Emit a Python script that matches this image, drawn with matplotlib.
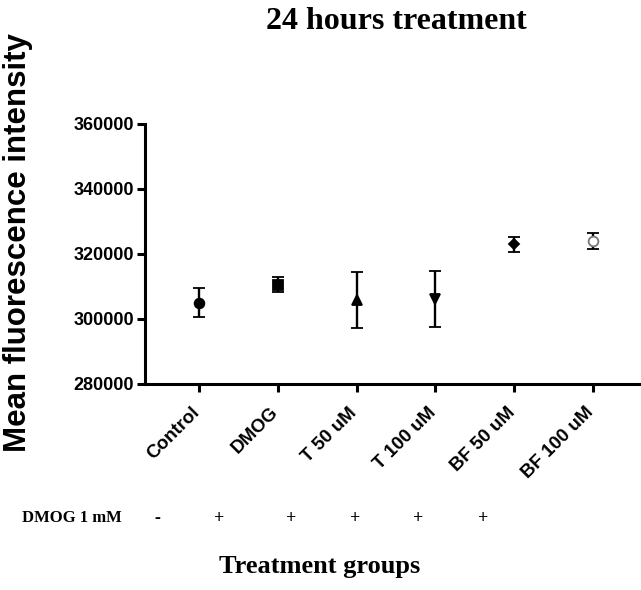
import numpy as np
import matplotlib
matplotlib.use('Agg')
import matplotlib.pyplot as plt
import matplotlib.transforms as mtransforms

# values
groups = ['Control', 'DMOG', 'T 50 uM', 'T 100 uM', 'BF 50 uM', 'BF 100 uM']
means = [305000, 310500, 305800, 306200, 323000, 324000]
errs = [4400, 2300, 8700, 8700, 2300, 2400]
dmog_signs = ['-', '+', '+', '+', '+', '+']
markers = ['o', 's', '^', 'v', 'D', 'o']

fig = plt.figure(figsize=(6.41, 5.90), dpi=100)
ax = fig.add_axes([0.2262, 0.3492, 0.7738, 0.4407])

x = np.arange(len(groups))
for i in range(len(groups)):
    if i == 5:
        fc, ec = 'white', '#777777'
    else:
        fc, ec = 'black', 'black'
    ms = 7 if markers[i] != 'D' else 5
    ax.errorbar(x[i], means[i], yerr=errs[i], fmt=markers[i], ms=ms,
                mfc=fc, mec=ec, mew=1.3, ecolor='black', elinewidth=1.7,
                capsize=4.5, capthick=1.7, zorder=3)

ax.set_ylim(280000, 360000)
ax.set_yticks([280000, 300000, 320000, 340000, 360000])
ax.set_xlim(-0.685, 5.61)
ax.set_xticks(x)
ax.set_xticklabels(groups, rotation=45, ha='right', rotation_mode='anchor',
                   fontfamily='Liberation Sans', fontweight='bold', fontsize=13.5)
for lab in ax.get_yticklabels():
    lab.set_fontfamily('Liberation Sans')
    lab.set_fontweight('bold')
    lab.set_fontsize(13)

for s in ['top', 'right']:
    ax.spines[s].set_visible(False)
for s in ['left', 'bottom']:
    ax.spines[s].set_linewidth(2.2)
ax.tick_params(width=2.2, length=6, direction='out', pad=2)
ax.tick_params(axis='x', pad=7)

# nudge the rotated labels so their end sits under the tick
shift = mtransforms.ScaledTranslation(-8 / 100, -2 / 100, fig.dpi_scale_trans)
for tk in ax.xaxis.get_major_ticks():
    tk.label1.set_transform(tk.label1.get_transform() + shift)

ax.set_ylabel('Mean fluorescence intensity', fontfamily='Liberation Sans',
              fontweight='bold', fontsize=22.5)
ax.yaxis.set_label_coords(-0.226, 0.542)

fig.text(0.618, 0.963, '24 hours treatment', ha='center', va='center',
         fontfamily='Liberation Serif', fontweight='bold', fontsize=23)

fig.text(0.034, 0.122, 'DMOG 1 mM', ha='left', va='center',
         fontfamily='Liberation Serif', fontweight='bold', fontsize=12)
sign_x = [157, 219, 291, 355, 418, 483]
for sx, sg in zip(sign_x, dmog_signs):
    fig.text(sx / 641, 0.122, sg, ha='center', va='center',
             fontfamily='Liberation Serif', fontweight='bold', fontsize=13)

fig.text(0.498, 0.039, 'Treatment groups', ha='center', va='center',
         fontfamily='Liberation Serif', fontweight='bold', fontsize=19)

fig.savefig('out.png', dpi=100)
